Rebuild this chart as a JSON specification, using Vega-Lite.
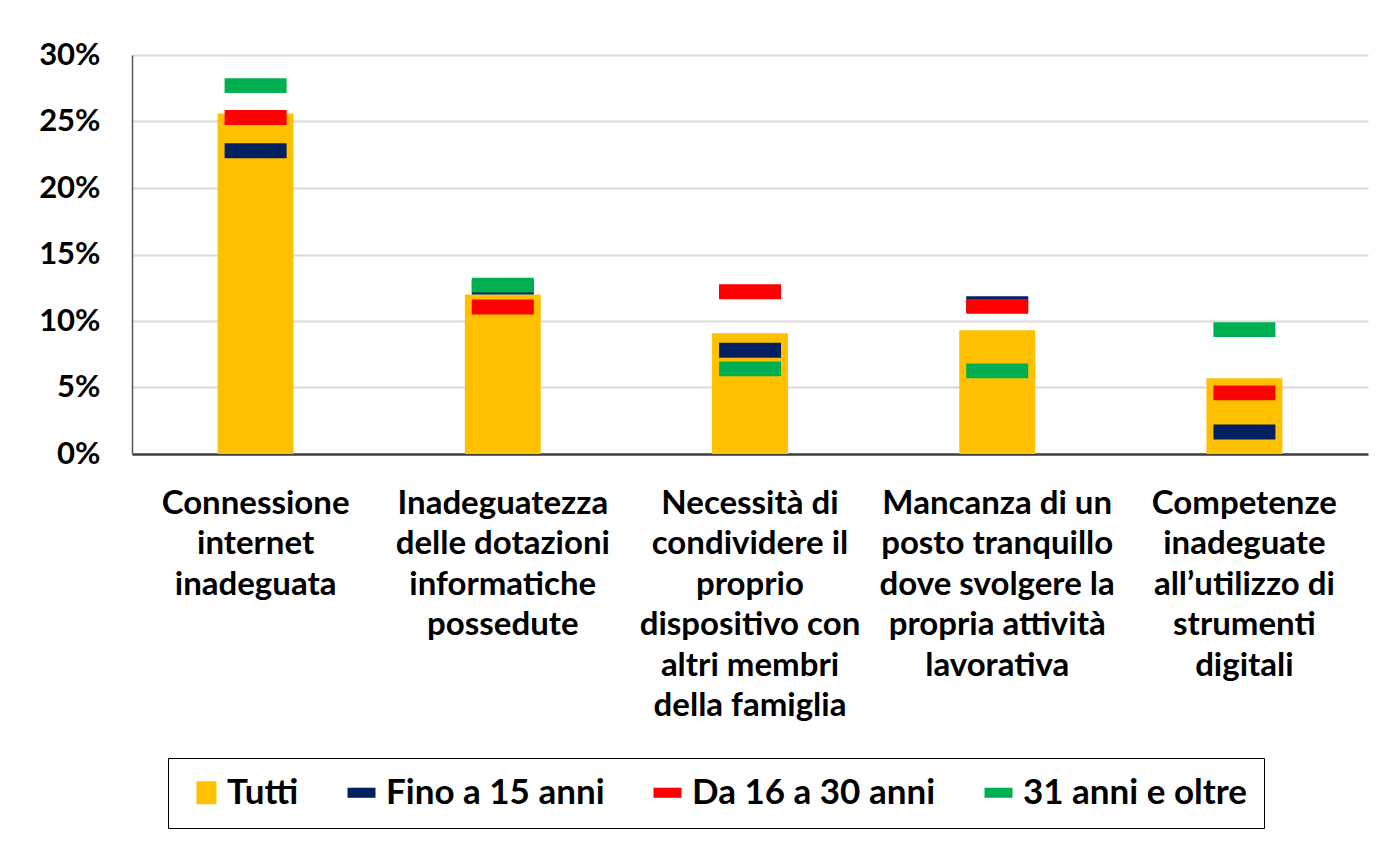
{
  "$schema": "https://vega.github.io/schema/vega-lite/v6.json",
  "autosize": {"type": "none"},
  "padding": {"left": 132, "top": 55, "right": 19, "bottom": 389},
  "width": 1236,
  "height": 399,
  "background": "white",
  "config": {
    "view": {"stroke": null},
    "font": "Lato",
    "axis": {"labelFont": "Lato", "labelFontWeight": "bold", "labelColor": "#000000"}
  },
  "data": {
    "values": [
      {"categoria": "Connessione\ninternet\ninadeguata", "serie": "Tutti", "valore": 0.256},
      {"categoria": "Inadeguatezza\ndelle dotazioni\ninformatiche\npossedute", "serie": "Tutti", "valore": 0.120},
      {"categoria": "Necessità di\ncondividere il\nproprio\ndispositivo con\naltri membri\ndella famiglia", "serie": "Tutti", "valore": 0.0907},
      {"categoria": "Mancanza di un\nposto tranquillo\ndove svolgere la\npropria attività\nlavorativa", "serie": "Tutti", "valore": 0.093},
      {"categoria": "Competenze\ninadeguate\nall’utilizzo di\nstrumenti\ndigitali", "serie": "Tutti", "valore": 0.057},
      {"categoria": "Connessione\ninternet\ninadeguata", "serie": "Fino a 15 anni", "valore": 0.228},
      {"categoria": "Inadeguatezza\ndelle dotazioni\ninformatiche\npossedute", "serie": "Fino a 15 anni", "valore": 0.1255},
      {"categoria": "Necessità di\ncondividere il\nproprio\ndispositivo con\naltri membri\ndella famiglia", "serie": "Fino a 15 anni", "valore": 0.078},
      {"categoria": "Mancanza di un\nposto tranquillo\ndove svolgere la\npropria attività\nlavorativa", "serie": "Fino a 15 anni", "valore": 0.113},
      {"categoria": "Competenze\ninadeguate\nall’utilizzo di\nstrumenti\ndigitali", "serie": "Fino a 15 anni", "valore": 0.0165},
      {"categoria": "Connessione\ninternet\ninadeguata", "serie": "Da 16 a 30 anni", "valore": 0.253},
      {"categoria": "Inadeguatezza\ndelle dotazioni\ninformatiche\npossedute", "serie": "Da 16 a 30 anni", "valore": 0.1105},
      {"categoria": "Necessità di\ncondividere il\nproprio\ndispositivo con\naltri membri\ndella famiglia", "serie": "Da 16 a 30 anni", "valore": 0.122},
      {"categoria": "Mancanza di un\nposto tranquillo\ndove svolgere la\npropria attività\nlavorativa", "serie": "Da 16 a 30 anni", "valore": 0.111},
      {"categoria": "Competenze\ninadeguate\nall’utilizzo di\nstrumenti\ndigitali", "serie": "Da 16 a 30 anni", "valore": 0.046},
      {"categoria": "Connessione\ninternet\ninadeguata", "serie": "31 anni e oltre", "valore": 0.277},
      {"categoria": "Inadeguatezza\ndelle dotazioni\ninformatiche\npossedute", "serie": "31 anni e oltre", "valore": 0.127},
      {"categoria": "Necessità di\ncondividere il\nproprio\ndispositivo con\naltri membri\ndella famiglia", "serie": "31 anni e oltre", "valore": 0.064},
      {"categoria": "Mancanza di un\nposto tranquillo\ndove svolgere la\npropria attività\nlavorativa", "serie": "31 anni e oltre", "valore": 0.0625},
      {"categoria": "Competenze\ninadeguate\nall’utilizzo di\nstrumenti\ndigitali", "serie": "31 anni e oltre", "valore": 0.0935}
    ]
  },
  "encoding": {
    "x": {
      "field": "categoria",
      "type": "nominal",
      "sort": null,
      "scale": {"paddingInner": 0, "paddingOuter": 0},
      "axis": {
        "title": null,
        "labelAngle": 0,
        "labelFontSize": 33,
        "labelLineHeight": 40.5,
        "labelPadding": 33,
        "labelBaseline": "top",
        "labelLimit": 0,
        "labelExpr": "split(datum.label, '\\n')",
        "ticks": false,
        "grid": false,
        "domainColor": "#404040",
        "domainWidth": 2.5
      }
    },
    "y": {
      "field": "valore",
      "type": "quantitative",
      "scale": {"domain": [0, 0.3], "nice": false},
      "axis": {
        "title": null,
        "values": [0, 0.05, 0.1, 0.15, 0.2, 0.25, 0.3],
        "format": ".0%",
        "labelFontSize": 31,
        "labelPadding": 32,
        "ticks": false,
        "domainColor": "#595959",
        "domainWidth": 1.5,
        "gridColor": "#D9D9D9",
        "gridWidth": 2
      }
    }
  },
  "layer": [
    {
      "transform": [{"filter": "datum.serie === 'Tutti'"}],
      "mark": {"type": "point", "filled": true, "opacity": 1, "size": 0, "strokeWidth": 0},
      "encoding": {
        "color": {
          "field": "serie",
          "type": "nominal",
          "scale": {
            "domain": ["Tutti", "Fino a 15 anni", "Da 16 a 30 anni", "31 anni e oltre"],
            "range": ["#FFC000", "#002060", "#FF0000", "#00B050"]
          },
          "legend": {
            "title": null,
            "orient": "none",
            "legendX": 36,
            "legendY": 703,
            "direction": "horizontal",
            "columns": 4,
            "columnPadding": 45,
            "padding": 17,
            "strokeColor": "#000000",
            "fillColor": "#FFFFFF",
            "symbolSize": 784,
            "symbolStrokeWidth": 0,
            "labelFont": "Lato",
            "labelFontWeight": "bold",
            "labelFontSize": 35,
            "labelColor": "#000000",
            "labelOffset": 7,
            "labelLimit": 0
          }
        },
        "shape": {
          "field": "serie",
          "type": "nominal",
          "scale": {
            "domain": ["Tutti", "Fino a 15 anni", "Da 16 a 30 anni", "31 anni e oltre"],
            "range": ["M-0.43,-0.82H1V0.82H-0.43Z", "M-1,-0.36H1V0.36H-1Z", "M-1,-0.36H1V0.36H-1Z", "M-1,-0.36H1V0.36H-1Z"]
          }
        }
      }
    },
    {
      "transform": [{"filter": "datum.serie === 'Tutti'"}],
      "mark": {"type": "bar", "color": "#FFC000", "width": {"band": 0.307}}
    },
    {
      "transform": [{"filter": "datum.serie !== 'Tutti'"}],
      "mark": {"type": "point", "filled": true, "opacity": 1, "size": 3844, "strokeWidth": 0, "shape": "M-1,-0.24H1V0.24H-1Z"},
      "encoding": {
        "color": {
          "field": "serie",
          "type": "nominal",
          "legend": null
        }
      }
    }
  ]
}
